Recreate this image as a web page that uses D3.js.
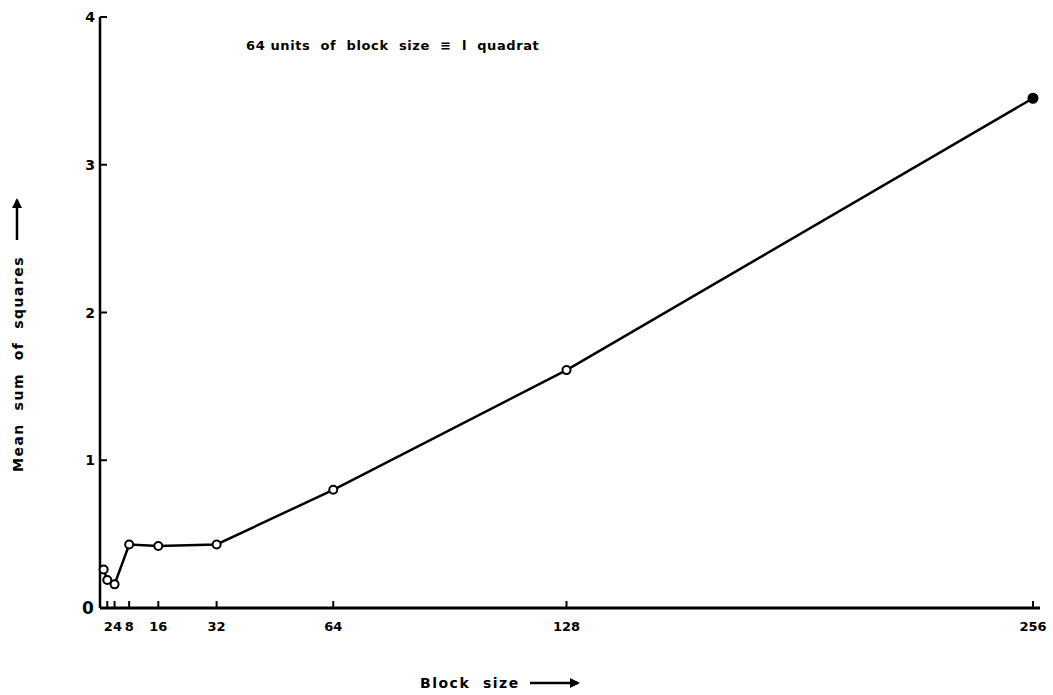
<!DOCTYPE html>
<html>
<head>
<meta charset="utf-8">
<script src="https://cdn.jsdelivr.net/npm/d3@7"></script>
<style>
  body { margin: 0; background: #fff; }
  text { font-family: "DejaVu Sans", sans-serif; font-weight: bold; fill: #000; }
</style>
</head>
<body>
<svg id="chart" width="1053" height="695"></svg>
<script>
// block sizes and mean sums of squares
const blockSizes = [1, 2, 4, 8, 16, 32, 64, 128, 256];
const meanSquares = [0.26, 0.19, 0.16, 0.43, 0.42, 0.43, 0.80, 1.61, 3.45];
const xTicks = [2, 4, 8, 16, 32, 64, 128, 256];
const yTicks = [1, 2, 3, 4];

const svg = d3.select("#chart");

const x = d3.scaleLinear().domain([0, 256]).range([100, 1033]);
const y = d3.scaleLinear().domain([0, 4]).range([608, 17]);

// axes: plain lines with ticks pointing inward
const ax = svg.append("g").attr("stroke", "#000").attr("fill", "none");

ax.append("line")
    .attr("x1", x(0)).attr("x2", 1040)
    .attr("y1", y(0)).attr("y2", y(0))
    .attr("stroke-width", 3);

ax.append("line")
    .attr("x1", x(0)).attr("x2", x(0))
    .attr("y1", y(0)).attr("y2", y(4))
    .attr("stroke-width", 2.5);

ax.selectAll(".xt")
    .data(xTicks)
    .enter().append("line")
    .attr("x1", d => x(d)).attr("x2", d => x(d))
    .attr("y1", y(0)).attr("y2", y(0) - 7)
    .attr("stroke-width", 2);

ax.selectAll(".yt")
    .data(yTicks)
    .enter().append("line")
    .attr("x1", x(0)).attr("x2", x(0) + 7)
    .attr("y1", d => y(d)).attr("y2", d => y(d))
    .attr("stroke-width", 2);

svg.selectAll(".xl")
    .data(xTicks)
    .enter().append("text")
    .attr("x", d => x(d))
    .attr("y", y(0) + 23)
    .attr("text-anchor", "middle")
    .attr("font-size", 13)
    .attr("dx", d => d === 2 ? 1 : (d === 4 ? 3 : 0))
    .text(d => d);

svg.selectAll(".yl")
    .data(yTicks)
    .enter().append("text")
    .attr("x", x(0) - 5)
    .attr("y", d => y(d) + 5)
    .attr("text-anchor", "end")
    .attr("font-size", 14)
    .text(d => d);

// origin "0"
svg.append("text")
    .attr("x", 88).attr("y", y(0) + 6)
    .attr("text-anchor", "middle")
    .attr("font-size", 17)
    .attr("font-weight", "normal")
    .text("0");

// data line
const line = d3.line().x((d, i) => x(blockSizes[i])).y(d => y(d));
svg.append("path")
    .datum(meanSquares)
    .attr("d", line)
    .attr("fill", "none")
    .attr("stroke", "#000")
    .attr("stroke-width", 2.5);

svg.selectAll(".pt")
    .data(meanSquares)
    .enter().append("circle")
    .attr("cx", (d, i) => x(blockSizes[i]))
    .attr("cy", d => y(d))
    .attr("r", (d, i) => i === meanSquares.length - 1 ? 4.5 : 4)
    .attr("fill", (d, i) => i === meanSquares.length - 1 ? "#000" : "#fff")
    .attr("stroke", "#000")
    .attr("stroke-width", 2);

// annotation
svg.append("text")
    .attr("x", 246).attr("y", 50)
    .attr("font-size", 13)
    .attr("letter-spacing", 0.6)
    .attr("xml:space", "preserve")
    .text("64 units  of  block  size  \u2261  l  quadrat");

// x axis label with arrow
svg.append("text")
    .attr("x", 420).attr("y", 688)
    .attr("font-size", 14)
    .attr("letter-spacing", 1.5)
    .attr("xml:space", "preserve")
    .text("Block  size");

svg.append("defs").append("marker")
    .attr("id", "arr")
    .attr("viewBox", "0 0 10 10")
    .attr("refX", 8).attr("refY", 5)
    .attr("markerWidth", 4).attr("markerHeight", 4)
    .attr("orient", "auto")
    .append("path")
    .attr("d", "M0,0L10,5L0,10z")
    .attr("fill", "#000");

svg.append("line")
    .attr("x1", 530).attr("x2", 578)
    .attr("y1", 683).attr("y2", 683)
    .attr("stroke", "#000").attr("stroke-width", 2.5)
    .attr("marker-end", "url(#arr)");

// y axis label with arrow
svg.append("text")
    .attr("transform", "translate(23,472) rotate(-90)")
    .attr("font-size", 14)
    .attr("letter-spacing", 1.5)
    .attr("xml:space", "preserve")
    .text("Mean  sum  of  squares");

svg.append("line")
    .attr("x1", 17).attr("x2", 17)
    .attr("y1", 240).attr("y2", 200)
    .attr("stroke", "#000").attr("stroke-width", 2.5)
    .attr("marker-end", "url(#arr)");
</script>
</body>
</html>
